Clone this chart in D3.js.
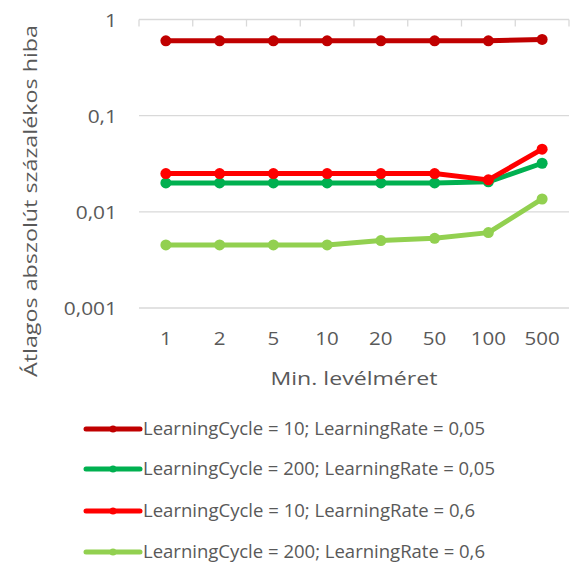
<!DOCTYPE html>
<html><head><meta charset="utf-8">
<script src="https://cdn.jsdelivr.net/npm/d3@7"></script>
<style>body{margin:0;background:#fff}svg{display:block}text{font-family:"Open Sans",sans-serif;fill:#595959}</style>
</head><body>
<svg id="c" width="571" height="564"></svg>
<script>
const categories = ["1","2","5","10","20","50","100","500"];
const seriesNames = ["LearningCycle = 10; LearningRate = 0,05","LearningCycle = 200; LearningRate = 0,05","LearningCycle = 10; LearningRate = 0,6","LearningCycle = 200; LearningRate = 0,6"];
const seriesColors = ["#C00000","#00B050","#FF0000","#92D050"];
const lc10lr005 = [0.6,0.6,0.6,0.6,0.6,0.6,0.6,0.62];
const lc200lr005 = [0.02,0.02,0.02,0.02,0.02,0.02,0.0205,0.032];
const lc10lr06 = [0.025,0.025,0.025,0.025,0.025,0.025,0.0215,0.0448];
const lc200lr06 = [0.00453,0.00453,0.00453,0.00453,0.00502,0.0053,0.00608,0.0136];
const yTicks = [1,0.1,0.01,0.001];
const yTickLabels = ["1","0,1","0,01","0,001"];
const yTitle = "Átlagos abszolút százalékos hiba";
const xTitle = "Min. levélméret";
const series = [lc10lr005, lc200lr005, lc10lr06, lc200lr06];

const svg = d3.select("#c");
const x = d3.scaleBand().domain(categories).range([139,569]).padding(0);
const y = d3.scaleLog().domain([0.001,1]).range([308,19.5]);

function stretch(sel, f){
  sel.each(function(){ const w=this.getComputedTextLength(); d3.select(this).attr("textLength",w*f).attr("lengthAdjust","spacingAndGlyphs"); });
}

// gridlines
svg.append("g").selectAll("line").data(yTicks).join("line")
  .attr("x1",139).attr("x2",569).attr("y1",d=>y(d)).attr("y2",d=>y(d))
  .attr("stroke","#d9d9d9").attr("stroke-width",1.3);
// top axis tick marks at category boundaries
const bounds = categories.map(c=>x(c)).concat([x.range()[1]]);
svg.append("g").selectAll("line").data(bounds).join("line")
  .attr("x1",d=>d).attr("x2",d=>d).attr("y1",y(1)).attr("y2",y(1)+7)
  .attr("stroke","#d9d9d9").attr("stroke-width",1.3);

// y labels
svg.append("g").selectAll("text").data(yTicks).join("text")
  .attr("x",117).attr("y",d=>y(d)+7).attr("text-anchor","end")
  .style("font-size","19px").text((d,i)=>yTickLabels[i]).call(stretch,1.1);
// x labels
svg.append("g").selectAll("text").data(categories).join("text")
  .attr("x",d=>x(d)+x.bandwidth()/2).attr("y",345).attr("text-anchor","middle")
  .style("font-size","19px").text(d=>d).call(stretch,1.08);
// titles
svg.append("text").attr("x",354).attr("y",385).attr("text-anchor","middle")
  .style("font-size","19px").text(xTitle).attr("textLength",167).attr("lengthAdjust","spacingAndGlyphs");
svg.append("text").attr("transform","translate(37,201) rotate(-90)").attr("text-anchor","middle")
  .style("font-size","19px").text(yTitle).attr("textLength",352).attr("lengthAdjust","spacingAndGlyphs");

const line = d3.line().x((d,i)=>x(categories[i])+x.bandwidth()/2).y(d=>y(d));
series.forEach((s,k)=>{
  const g = svg.append("g");
  g.append("path").datum(s).attr("d",line).attr("fill","none")
    .attr("stroke",seriesColors[k]).attr("stroke-width",5).attr("stroke-linejoin","round");
  g.selectAll("circle").data(s).join("circle")
    .attr("cx",(d,i)=>x(categories[i])+x.bandwidth()/2).attr("cy",d=>y(d)).attr("r",5.5)
    .attr("fill",seriesColors[k]);
});

// legend
const legY = [429,469,511,552];
const legW = [342,352,332,342];
const lg = svg.append("g");
seriesNames.forEach((n,k)=>{
  lg.append("line").attr("x1",86).attr("x2",140).attr("y1",legY[k]).attr("y2",legY[k])
    .attr("stroke",seriesColors[k]).attr("stroke-width",5).attr("stroke-linecap","round");
  lg.append("circle").attr("cx",113).attr("cy",legY[k]).attr("r",3.5).attr("fill",seriesColors[k]);
  lg.append("text").attr("x",143).attr("y",legY[k]+6).style("font-size","19px")
    .attr("textLength",legW[k]).attr("lengthAdjust","spacingAndGlyphs").text(n);
});
</script>
</body></html>
